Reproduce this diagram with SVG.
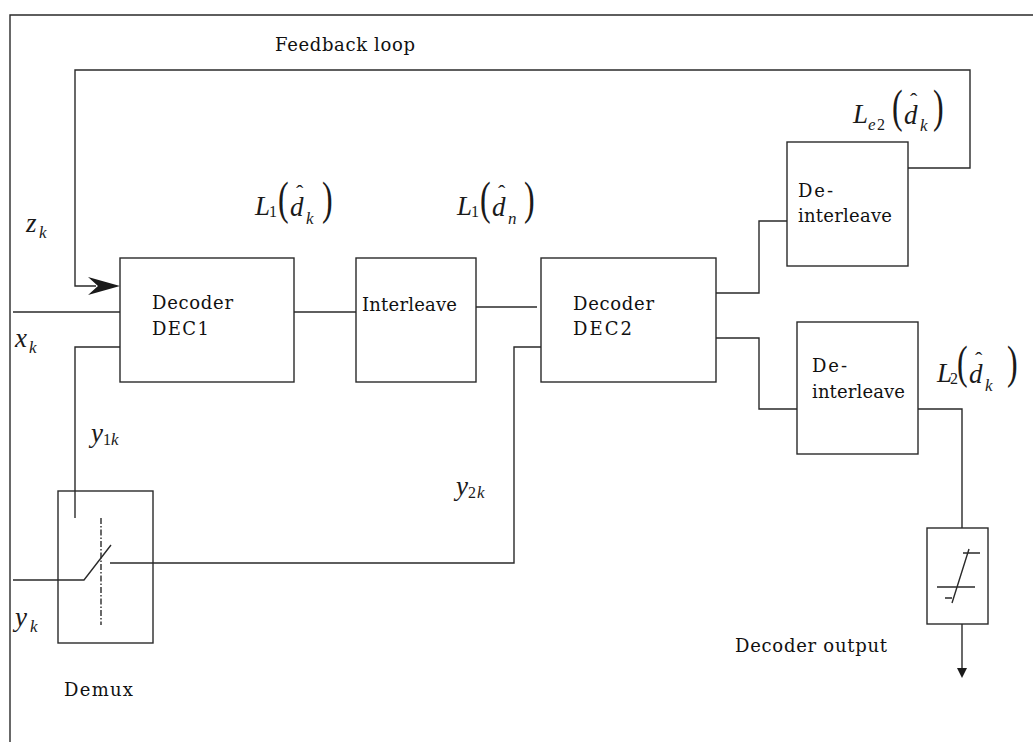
<svg xmlns="http://www.w3.org/2000/svg" width="1033" height="742" viewBox="0 0 1033 742">
<style>
.ln{fill:none;stroke:#2a2a2a;stroke-width:1.4}
.box{fill:#fff;stroke:#2a2a2a;stroke-width:1.4}
.t{font-family:"DejaVu Serif","Liberation Serif",serif;font-size:18px;fill:#111}
.mi{font-family:"Liberation Serif",serif;font-style:italic;font-size:27px;fill:#1a1a1a}
.si{font-family:"Liberation Serif",serif;font-style:italic;font-size:17px}
.sr{font-family:"Liberation Serif",serif;font-style:normal;font-size:16px}
.par{font-family:"Liberation Serif",serif;font-size:32px;fill:#1a1a1a}
.hat{font-family:"Liberation Serif",serif;font-style:normal;font-size:22px}
</style>
<rect x="0" y="0" width="1033" height="742" fill="#fff"/>
<path class="ln" d="M10,742 V15 H1033"/>

<g id="connectors">
  <path class="ln" d="M908,168 H970 V70 H75 V286 H96"/>
  <polygon points="120,286 88,277 98,286 88,295" fill="#1a1a1a"/>
  <path class="ln" d="M13,312 H120"/>
  <path class="ln" d="M120,347 H75 V518"/>
  <path class="ln" d="M294,312 H356"/>
  <path class="ln" d="M476,307 H537"/>
  <path class="ln" d="M110,563 H514 V347 H541"/>
  <path class="ln" d="M716,293 H759 V221 H787"/>
  <path class="ln" d="M716,338 H759 V409 H797"/>
  <path class="ln" d="M918,409 H962 V528"/>
  <path class="ln" d="M962,624 V670"/>
  <polygon points="957,668 967,668 962,678" fill="#1a1a1a"/>
</g>

<g id="dec1">
  <rect class="box" x="120" y="258" width="174" height="124"/>
  <text class="t" x="152" y="309" textLength="81">Decoder</text>
  <text class="t" x="152" y="335" textLength="57">DEC1</text>
</g>
<g id="interleave">
  <rect class="box" x="356" y="258" width="120" height="124"/>
  <text class="t" x="362" y="311" textLength="95">Interleave</text>
</g>
<g id="dec2">
  <rect class="box" x="541" y="258" width="175" height="124"/>
  <text class="t" x="573" y="310" textLength="81">Decoder</text>
  <text class="t" x="573" y="335" textLength="59">DEC2</text>
</g>
<g id="deinterleave1">
  <rect class="box" x="787" y="142" width="121" height="124"/>
  <text class="t" x="798" y="197" textLength="35">De-</text>
  <text class="t" x="798" y="222" textLength="94">interleave</text>
</g>
<g id="deinterleave2">
  <rect class="box" x="797" y="322" width="121" height="132"/>
  <text class="t" x="812" y="372" textLength="35">De-</text>
  <text class="t" x="812" y="398" textLength="93">interleave</text>
</g>
<g id="demux">
  <rect class="box" x="58" y="491" width="95" height="152"/>
  <path class="ln" d="M75,491 V518"/>
  <path class="ln" d="M13,580 H84 L111,545"/>
  <path class="ln" d="M110,563 H153"/>
  <path class="ln" d="M101,518 V625" stroke-dasharray="6 2 1.5 2" stroke-width="1"/>
  <text class="t" x="64" y="696" textLength="69">Demux</text>
</g>
<g id="limiter">
  <rect class="box" x="927" y="528" width="61" height="96"/>
  <path class="ln" d="M963,553 H980 M937,587 H975 M969,549 L952,603 M945,598 H952"/>
</g>

<g id="labels">
  <text class="t" x="275" y="51" textLength="140">Feedback loop</text>

  <text class="mi" x="26" y="232">z<tspan class="si" x="39" y="238">k</tspan></text>
  <text class="mi" x="15" y="347">x<tspan class="si" x="29" y="353">k</tspan></text>
  <text class="mi" x="91" y="442">y<tspan class="sr" x="103" y="445">1</tspan><tspan class="si" x="111" y="445">k</tspan></text>
  <text class="mi" x="456" y="495">y<tspan class="sr" x="468" y="498">2</tspan><tspan class="si" x="477" y="498">k</tspan></text>
  <text class="mi" x="15" y="626">y<tspan class="si" x="30" y="632">k</tspan></text>

  <g id="lab-L1dk">
    <text class="mi" x="255" y="215">L<tspan class="sr" x="269" y="217">1</tspan><tspan x="290" y="216">d</tspan><tspan class="hat" x="296" y="200">ˆ</tspan><tspan class="si" x="306" y="224">k</tspan></text>
    <text class="par" transform="translate(278,214) scale(1,1.45)">(</text>
    <text class="par" transform="translate(322,214) scale(1,1.45)">)</text>
  </g>
  <g id="lab-L1dn">
    <text class="mi" x="457" y="215">L<tspan class="sr" x="471" y="217">1</tspan><tspan x="492" y="216">d</tspan><tspan class="hat" x="498" y="200">ˆ</tspan><tspan class="si" x="508" y="224">n</tspan></text>
    <text class="par" transform="translate(480,214) scale(1,1.45)">(</text>
    <text class="par" transform="translate(524,214) scale(1,1.45)">)</text>
  </g>
  <g id="lab-Le2dk">
    <text class="mi" x="853" y="123">L<tspan class="si" x="868" y="130">e</tspan><tspan class="sr" x="877" y="130">2</tspan><tspan x="904" y="124">d</tspan><tspan class="hat" x="910" y="108">ˆ</tspan><tspan class="si" x="920" y="131">k</tspan></text>
    <text class="par" transform="translate(892,122) scale(1,1.45)">(</text>
    <text class="par" transform="translate(933,122) scale(1,1.45)">)</text>
  </g>
  <g id="lab-L2dk">
    <text class="mi" x="937" y="382">L<tspan class="sr" x="950" y="384">2</tspan><tspan x="969" y="383">d</tspan><tspan class="hat" x="975" y="367">ˆ</tspan><tspan class="si" x="985" y="391">k</tspan></text>
    <text class="par" transform="translate(957,378) scale(1,1.45)">(</text>
    <text class="par" transform="translate(1007,378) scale(1,1.45)">)</text>
  </g>
  <text class="t" x="735" y="652" textLength="152">Decoder output</text>
</g>
</svg>
